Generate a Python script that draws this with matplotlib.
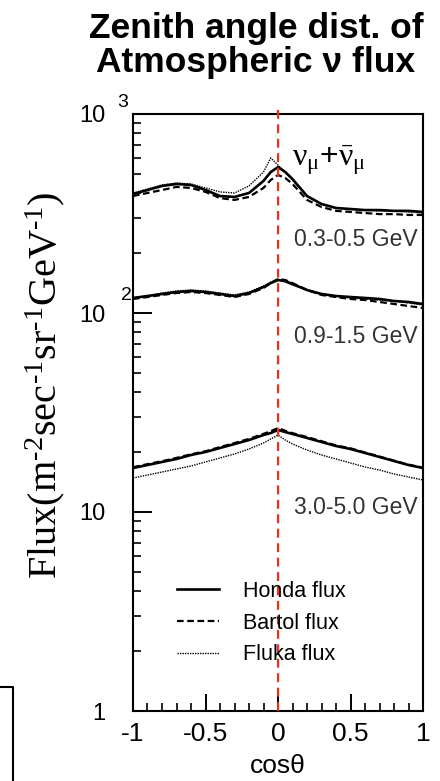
import matplotlib
matplotlib.use("Agg")
import matplotlib.pyplot as plt
from matplotlib.lines import Line2D
from matplotlib.ticker import FixedLocator, FixedFormatter, LogLocator, NullFormatter
import numpy as np

plt.rcParams['font.family'] = ['Liberation Sans', 'DejaVu Sans']
plt.rcParams['mathtext.fontset'] = 'custom'
plt.rcParams['mathtext.rm'] = 'Liberation Serif'
plt.rcParams['mathtext.it'] = 'Liberation Serif:italic'
plt.rcParams['mathtext.default'] = 'rm'

# --- data: cos(zenith) grid and fluxes ---
cos_z = [-1.0, -0.9, -0.8, -0.7, -0.6, -0.5, -0.4, -0.3, -0.2, -0.1, -0.05,
         0.0, 0.05, 0.1, 0.2, 0.3, 0.4, 0.5, 0.6, 0.7, 0.8, 0.9, 1.0]

# 0.3-0.5 GeV
honda_low = [396, 415, 435, 445, 440, 415, 387, 383, 401, 461, 511,
             541, 511, 471, 387, 353, 337, 333, 329, 329, 326, 326, 322]
bartol_low = [387, 401, 415, 430, 425, 406, 378, 370, 383, 425, 466,
              494, 477, 445, 370, 341, 326, 322, 318, 314, 314, 311, 311]
fluka_low = [401, 420, 440, 450, 445, 425, 406, 401, 435, 511, 601,
             554, 511, 466, 387, 353, 337, 333, 329, 326, 326, 322, 318]

# 0.9-1.5 GeV
honda_mid = [119.0, 121.7, 124.6, 127.5, 129.0, 127.5, 124.6, 121.7, 126.0, 135.1, 141.4,
             146.5, 144.8, 139.8, 130.5, 124.6, 121.7, 120.3, 119.0, 117.6, 114.9, 113.6, 111.0]
bartol_mid = [117.6, 120.3, 123.2, 126.0, 127.5, 126.0, 123.2, 120.3, 124.6, 133.6, 141.4,
              148.2, 146.5, 141.4, 130.5, 123.2, 120.3, 117.6, 116.2, 113.6, 111.0, 108.4, 106.0]
fluka_mid = [119.0, 121.7, 126.0, 129.0, 130.5, 129.0, 126.0, 123.2, 127.5, 136.7, 143.1,
             146.5, 143.1, 138.2, 130.5, 124.6, 121.7, 119.0, 117.6, 116.2, 114.9, 112.3, 109.7]

# 3.0-5.0 GeV
honda_high = [16.64, 17.22, 17.84, 18.47, 19.34, 20.02, 20.97, 21.96, 23.0, 24.37, 24.95,
              25.83, 25.23, 24.66, 23.55, 22.48, 21.46, 20.73, 19.80, 18.90, 18.05, 17.22, 16.64]
bartol_high = [16.8, 17.4, 18.0, 18.7, 19.5, 20.2, 21.2, 22.2, 23.3, 24.7, 25.5,
               26.4, 25.6, 24.9, 23.8, 22.7, 21.6, 20.9, 19.9, 19.0, 18.1, 17.3, 16.7]
fluka_high = [14.82, 15.34, 15.89, 16.45, 17.03, 17.84, 18.68, 19.57, 20.73, 22.22, 23.27,
              24.37, 23.0, 21.96, 20.49, 19.34, 18.47, 17.63, 16.83, 16.26, 15.52, 15.0, 14.48]

energy_labels = ["0.3-0.5 GeV", "0.9-1.5 GeV", "3.0-5.0 GeV"]
label_flux = [233, 76.5, 10.5]

fig = plt.figure(figsize=(4.4, 7.81), dpi=100)
ax = fig.add_axes([133 / 440, 1 - 711 / 781, 290 / 440, 597 / 781])

for h, b, f in [(honda_low, bartol_low, fluka_low),
                (honda_mid, bartol_mid, fluka_mid),
                (honda_high, bartol_high, fluka_high)]:
    ax.plot(cos_z, h, color='black', lw=1.9, ls='-')
    ax.plot(cos_z, b, color='black', lw=1.6, ls=(0, (3, 1.6)))
    ax.plot(cos_z, f, color='black', lw=1.0, ls=(0, (1, 0.8)))

ax.axvline(0, ymin=0, ymax=1.008, color='#e8321e', lw=1.6, ls=(0, (4, 2.5)),
           clip_on=False, zorder=5)

ax.set_yscale('log')
ax.set_xlim(-1, 1)
ax.set_ylim(1, 1000)

# y axis ticks
ax.yaxis.set_major_locator(FixedLocator([1, 10, 100, 1000]))
ax.yaxis.set_major_formatter(FixedFormatter(['1', '10', '10', '10']))
ax.yaxis.set_minor_locator(LogLocator(base=10, subs=np.arange(2, 10)))
ax.yaxis.set_minor_formatter(NullFormatter())
ax.tick_params(axis='y', which='major', direction='in', length=14, width=1.4,
               pad=20, labelsize=17)
ax.tick_params(axis='y', which='minor', direction='in', length=6, width=1.2)

# x axis ticks
ax.xaxis.set_major_locator(FixedLocator([-1, -0.5, 0, 0.5, 1]))
ax.xaxis.set_major_formatter(FixedFormatter(['-1', '-0.5', '0', '0.5', '1']))
ax.xaxis.set_minor_locator(FixedLocator(np.round(np.arange(-1, 1.01, 0.1), 2)))
ax.tick_params(axis='x', which='major', direction='in', length=12, width=1.4,
               pad=8, labelsize=19)
ax.tick_params(axis='x', which='minor', direction='in', length=6, width=1.2)
ax.tick_params(top=False, right=False, which='both')

for s in ax.spines.values():
    s.set_linewidth(1.5)

# superscripts of the decade labels
ax.text(-0.04, 135, '2', transform=ax.get_yaxis_transform(), fontsize=14,
        ha='left', va='top')
ax.text(-0.055, 1260, '3', transform=ax.get_yaxis_transform(), fontsize=14,
        ha='left', va='top')

ax.set_xlabel('cos\u03b8', fontsize=19, labelpad=6)

fig.text(45 / 440, 1 - 385 / 781,
         'Flux(m$^{\u20102}$sec$^{\u20101}$sr$^{\u20101}$GeV$^{\u20101}$)',
         family='Liberation Serif', fontsize=29, rotation=90,
         ha='center', va='center')

fig.text(256 / 440, 1 - 12 / 781, 'Zenith angle dist. of\nAtmospheric \u03bd flux',
         fontsize=25.5, fontweight='bold', ha='center', va='top', linespacing=1.02)

ax.text(0.1, 590, r'$\nu_{\mu}$+$\bar{\nu}_{\mu}$', fontsize=23,
        ha='left', va='center')

for lab, yv in zip(energy_labels, label_flux):
    ax.text(0.966, yv, lab, fontsize=16.5, ha='right', va='center', color='#333333')

handles = [Line2D([], [], color='black', lw=1.9, ls='-'),
           Line2D([], [], color='black', lw=1.6, ls=(0, (3, 1.6))),
           Line2D([], [], color='black', lw=1.0, ls=(0, (1, 0.8)))]
ax.legend(handles, ['Honda flux', 'Bartol flux', 'Fluka flux'],
          loc='upper left', bbox_to_anchor=(0.152, 0.218), frameon=False,
          fontsize=15.5, handlelength=1.95, handletextpad=1.1,
          labelspacing=0.5, borderpad=0, borderaxespad=0)

# partial frame of the neighbouring panel at the lower left
fig.add_artist(Line2D([0, 13 / 440, 13 / 440], [1 - 687 / 781, 1 - 687 / 781, 0],
                      transform=fig.transFigure, color='black', lw=1.5))

fig.savefig('out.png', dpi=100)
